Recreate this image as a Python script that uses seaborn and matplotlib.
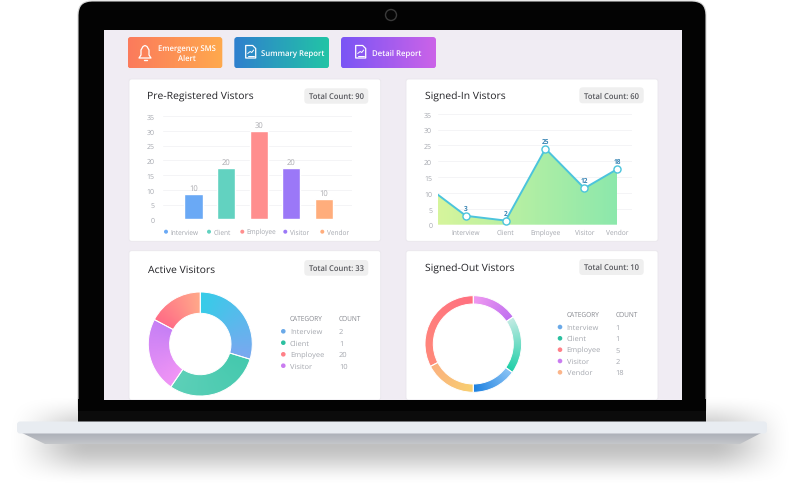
import numpy as np
import seaborn as sns
import matplotlib.pyplot as plt
from matplotlib.colors import to_rgb
from matplotlib.patches import FancyBboxPatch, Polygon, Rectangle, Circle

W, H = 800, 489

categories = ["Interview", "Client", "Employee", "Visitor", "Vendor"]
bar_heights = [8.7, 17.6, 30, 17.5, 6.8]
bar_labels = ["10", "20", "30", "20", "10"]
bar_colors = ["#6aa9f5", "#62d2c0", "#ff8e8e", "#9b78f7", "#ffad7c"]

line_x = [-0.71, 0, 1, 2, 2.98, 3.8]
line_values = [9.5, 2.8, 1.3, 24, 11.5, 17.5]
line_labels = ["3", "2", "25", "12", "18"]

active_shares = [107, 107.5, 83.5, 62]
active_counts = [2, 1, 20, 10]
active_grad = [("#35cde8", "#7aa8f0"), ("#45c9ae", "#5dd0b8"),
               ("#f195f5", "#c57ff5"), ("#ff6b86", "#ffa98a")]

out_shares = [55.7, 70.3, 54, 62.5, 117.5]
out_counts = [1, 1, 5, 2, 18]
out_grad = [("#f09af0", "#c070f0"), ("#c5ebe4", "#1fcfa8"), ("#8cc4f5", "#1c80e0"),
            ("#f8d070", "#fbb080"), ("#ff8a7a", "#ff7080")]

legend_dots = ["#6aa9e8", "#2cc0a0", "#ff8088", "#c97cf0", "#fbb58a"]

sns.set_theme(style="white")
plt.rcParams["font.family"] = ["Open Sans", "DejaVu Sans"]
plt.rcParams["text.hinting"] = "no_hinting"
TXT = "#a4a7ae"
GRID = "#f4f4f6"

fig = plt.figure(figsize=(W / 100, H / 100), dpi=100)
fig.patch.set_facecolor("white")
bg = fig.add_axes([0, 0, 1, 1], zorder=0)
bg.set_xlim(0, W)
bg.set_ylim(H, 0)
bg.axis("off")


def px_axes(left, top, right, bottom):
    ax = fig.add_axes([left / W, 1 - bottom / H, (right - left) / W, (bottom - top) / H], zorder=2)
    ax.patch.set_visible(False)
    return ax


def ramp(c0, c1, n=64):
    t = np.linspace(0, 1, n)[:, None]
    return (1 - t) * np.array(to_rgb(c0)) + t * np.array(to_rgb(c1))


def grad_box(x0, y0, x1, y1, c0, c1, radius=3, zorder=2):
    box = FancyBboxPatch((x0 + radius, y0 + radius), x1 - x0 - 2 * radius, y1 - y0 - 2 * radius,
                         boxstyle=f"round,pad={radius},rounding_size={radius}",
                         fc="none", ec="none", zorder=zorder)
    bg.add_patch(box)
    im = bg.imshow(ramp(c0, c1)[None, :, :], extent=(x0, x1, y1, y0), aspect="auto", zorder=zorder)
    im.set_clip_path(box)


# shadow under the laptop
sx = np.arange(W) + 0.5
sy = np.arange(392, H) + 0.5
smooth = lambda v: np.clip(v, 0, 1) ** 2 * (3 - 2 * np.clip(v, 0, 1))
mx = smooth((sx - 5) / 85) * smooth((795 - sx) / 85)
my = smooth((sy - 395) / 45) * smooth((487 - sy) / 42)
shadow = np.zeros((len(sy), W, 4))
shadow[..., 3] = 0.25 * np.outer(my, mx)
bg.imshow(shadow, extent=(0, W, H, 392), aspect="auto", zorder=0.5)

# lid, screen, camera
lid = FancyBboxPatch((92, 16), 600, 392, boxstyle="round,pad=14,rounding_size=14",
                     fc="#030303", ec="#d8d8d8", lw=0.8, zorder=1)
bg.add_patch(lid)
bg.add_patch(Rectangle((78, 400), 628, 22.5, fc="#030303", ec="none", zorder=1.05))
bg.add_patch(Rectangle((78, 412), 628, 10.5, fc="#0b0b0b", ec="none", zorder=1.1))
bg.add_patch(Rectangle((104, 31), 578, 370, fc="#f0ecf3", ec="none", zorder=1.2))
bg.add_patch(Circle((391, 16), 5.5, fc="#050505", ec="#3a3a3a", lw=1, zorder=1.3))

# base
lip = Polygon([(20, 433), (763, 433), (740, 445), (45, 445)], fc="none", ec="none", zorder=1.4)
bg.add_patch(lip)
lip_im = bg.imshow(ramp("#a9adb6", "#c4c6ca")[:, None, :], extent=(20, 763, 445, 433), aspect="auto", zorder=1.4)
lip_im.set_clip_path(lip)
bg.add_patch(FancyBboxPatch((20, 425.5), 744, 6, boxstyle="round,pad=3,rounding_size=3",
                            fc="#e8ecf1", ec="none", zorder=1.5))
bg.set_xlim(0, W)
bg.set_ylim(H, 0)

# buttons
grad_box(127.7, 38, 222.3, 69.3, "#fb7b5c", "#ffa94d")
grad_box(234.3, 38, 329, 69.3, "#2f80ce", "#22c4a6")
grad_box(341, 38, 436, 69.3, "#7a55f5", "#cb63e8")
bg.text(186.7, 54, "Emergency SMS\nAlert", color="white", fontsize=5.5, weight="semibold",
        ha="center", va="center", linespacing=1.3, zorder=3)
bg.text(261, 53.5, "Summary Report", color="white", fontsize=5.6, weight="semibold", va="center", zorder=3)
bg.text(372, 53.5, "Detail Report", color="white", fontsize=5.6, weight="semibold", va="center", zorder=3)

# bell icon
bell = [(139, 59), (141, 56), (141, 51), (143, 47.5), (145, 46.5), (147, 47.5), (149, 51), (149, 56), (151, 59)]
bg.add_patch(Polygon(bell, closed=True, fc="none", ec="white", lw=0.9, joinstyle="round", zorder=3))
bg.plot([143.5, 146.5], [61, 61], color="white", lw=1, zorder=3)

# document icons
for cx in (250.7, 360.7):
    doc = [(cx - 5, 46.5), (cx + 2, 46.5), (cx + 5, 49.5), (cx + 5, 59), (cx - 5, 59)]
    bg.add_patch(Polygon(doc, closed=True, fc="none", ec="white", lw=0.9, joinstyle="round", zorder=3))
    bg.plot([cx - 3, cx + 3], [56.5, 56.5], color="white", lw=0.7, zorder=3)
    bg.plot([cx - 3, cx - 0.5, cx + 1, cx + 3], [54.5, 52.5, 53.5, 51], color="white", lw=0.7, zorder=3)

# cards
for x0, x1, y0, y1 in [(129, 380.7, 80, 242.3), (406, 658, 80, 242.3),
                       (129, 380.7, 251.7, 401), (406, 658, 251.7, 401)]:
    r = 2.5
    bg.add_patch(FancyBboxPatch((x0 + r, y0 + r), x1 - x0 - 2 * r, y1 - y0 - 2 * r,
                                boxstyle=f"round,pad={r},rounding_size={r}",
                                fc="white", ec="#e9e6ec", lw=0.6, zorder=1.6))
# the frame closes off the two lower cards
bg.add_patch(Rectangle((104, 401), 578, 11, fc="#030303", ec="none", zorder=1.7))

titles = [("Pre-Registered Vistors", 147.3, 96.6), ("Signed-In Vistors", 425.3, 96.8),
          ("Active Visitors", 148.3, 270), ("Signed-Out Vistors", 425.3, 269)]
for label, x, y in titles:
    bg.text(x, y, label, fontsize=7.5, color="#222226", va="center", zorder=3)

pills = [("Total Count: 90", 304.3, 368.3, 89.3, 104.7), ("Total Count: 60", 579.3, 643.7, 88.3, 104.3),
         ("Total Count: 33", 304.3, 368.3, 261, 276.7), ("Total Count: 10", 579.3, 643.7, 260, 276)]
for label, x0, x1, y0, y1 in pills:
    r = 3.5
    bg.add_patch(FancyBboxPatch((x0 + r, y0 + r), x1 - x0 - 2 * r, y1 - y0 - 2 * r,
                                boxstyle=f"round,pad={r},rounding_size={r}",
                                fc="#efefef", ec="none", zorder=2))
    bg.text((x0 + x1) / 2, (y0 + y1) / 2 + 0.3, label, fontsize=5.5, color="#55565b", weight="semibold",
            ha="center", va="center", zorder=3)

# bar chart
ax = px_axes(163, 117.3, 351.7, 220.3)
sns.barplot(x=categories, y=bar_heights, hue=categories, palette=bar_colors, width=0.56,
            saturation=1, legend=False, ax=ax)
ax.set_xlim(-0.935, 4.85)
ax.set_ylim(0, 35)
ax.set_yticks(range(0, 40, 5))
ax.grid(axis="y", color=GRID, lw=0.7)
ax.set_axisbelow(True)
ax.set_xticks([])
ax.tick_params(axis="y", labelsize=5, labelcolor=TXT, length=0, pad=6)
sns.despine(ax=ax, left=True, bottom=True)
for container, label in zip(ax.containers, bar_labels):
    ax.bar_label(container, labels=[label], fontsize=5.5, color="#a8a8ad", padding=1.5)

legend_x = [(166, 170.7), (209, 213.7), (242.3, 246.3), (285.3, 290), (322.3, 326.7)]
for (dot, tx), label, c in zip(legend_x, categories, bar_colors):
    bg.add_patch(Circle((dot, 232.7), 2, fc=c, ec="none", zorder=3))
    bg.text(tx, 232.7, label, fontsize=4.7, color=TXT, va="center", zorder=3)

# area chart
LINE = "#4cc4dc"
ax = px_axes(437.7, 114.8, 631.7, 225.7)
poly = ax.fill_between(line_x, line_values, 0, color="none")
im = ax.imshow(ramp("#d6f59c", "#8ce8ac")[None, :, :], extent=(line_x[0], line_x[-1], 0, 30),
               aspect="auto", zorder=1)
im.set_clip_path(poly.get_paths()[0], transform=ax.transData)
sns.lineplot(x=line_x, y=line_values, sort=False, color=LINE, lw=1.4, ax=ax, zorder=3)
sns.scatterplot(x=line_x[1:], y=line_values[1:], s=26, color="white", edgecolor=LINE, linewidth=1,
                ax=ax, zorder=4, clip_on=False)
ax.set_xlim(line_x[0], 4.17)
ax.set_ylim(0, 34.8)
ax.set_yticks(range(0, 40, 5))
ax.set_xticks(line_x[1:])
ax.set_xticklabels(categories)
ax.grid(axis="y", color=GRID, lw=0.7)
ax.set_axisbelow(True)
ax.tick_params(axis="y", labelsize=5, labelcolor=TXT, length=0, pad=4)
ax.tick_params(axis="x", labelsize=4.8, labelcolor=TXT, length=0, pad=3)
sns.despine(ax=ax, left=True, bottom=True)
for x, y, label in zip(line_x[1:], line_values[1:], line_labels):
    ax.annotate(label, (x, y), xytext=(0, 4.2), textcoords="offset points", ha="center",
                fontsize=4.7, color="#3a86b5", weight="bold", zorder=5)


def donut(cx, cy, outer, inner, shares, grads):
    ax = px_axes(cx - outer - 2, cy - outer - 2, cx + outer + 2, cy + outer + 2)
    lim = (outer + 2) / outer
    wedges, _ = ax.pie(shares, startangle=90, counterclock=False, radius=1,
                       wedgeprops={"width": 1 - inner / outer})
    xs, ys = np.meshgrid(np.linspace(-1.05, 1.05, 300), np.linspace(-1.05, 1.05, 300))
    # clockwise angle from the top
    theta = np.degrees(np.arctan2(xs, ys)) % 360
    start = 0
    for wedge, span, (c0, c1) in zip(wedges, shares, grads):
        t = np.clip((theta - start) / span, 0, 1)[..., None]
        rgb = (1 - t) * np.array(to_rgb(c0)) + t * np.array(to_rgb(c1))
        im = ax.imshow(rgb, extent=(-1.05, 1.05, -1.05, 1.05), origin="lower", zorder=1)
        im.set_clip_path(wedge)
        wedge.set_facecolor("none")
        wedge.set_edgecolor("white")
        wedge.set_linewidth(0.7)
        wedge.set_zorder(2)
        start += span
    ax.set_xlim(-lim, lim)
    ax.set_ylim(-lim, lim)
    ax.set_aspect("equal")
    ax.axis("off")


def count_table(dot_x, text_x, count_x, head_y, row_ys, labels, counts):
    bg.text(text_x, head_y, "CATEGORY", fontsize=4.7, color="#85878e", va="center", zorder=3)
    bg.text(count_x, head_y, "COUNT", fontsize=4.7, color="#85878e", va="center", zorder=3)
    for y, label, n, c in zip(row_ys, labels, counts, legend_dots):
        bg.add_patch(Circle((dot_x, y), 2.3, fc=c, ec="none", zorder=3))
        bg.text(text_x, y, label, fontsize=5.4, color=TXT, va="center", zorder=3)
        bg.text(count_x, y, str(n), fontsize=5.4, color=TXT, va="center", zorder=3)


donut(200.3, 345, 52, 30.7, active_shares, active_grad)
count_table(283.3, 290, 339, 319.3, [332.3, 343.7, 355.3, 366.7], categories[:4], active_counts)

donut(473.3, 345, 48.3, 40, out_shares, out_grad)
count_table(560, 566.7, 615.3, 315, [328, 339.3, 350.7, 362, 373.3], categories, out_counts)

fig.savefig("out.png", dpi=100)
